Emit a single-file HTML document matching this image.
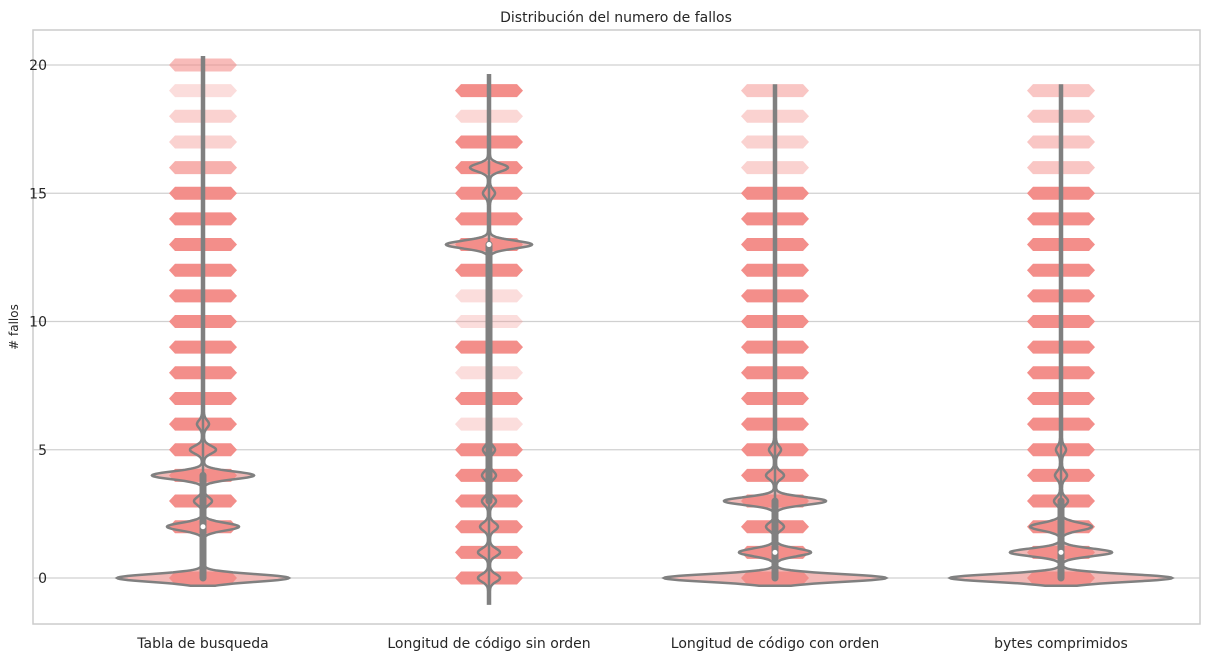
<!DOCTYPE html>
<html><head><meta charset="utf-8"><style>
body{margin:0;background:#fff;font-family:"Liberation Sans","DejaVu Sans",sans-serif}
svg text{font-family:"DejaVu Sans","Liberation Sans",sans-serif;fill:#262626}
</style></head><body>
<svg id="c" width="1213" height="661" xmlns="http://www.w3.org/2000/svg"></svg>
<script>
const categories=["Tabla de busqueda","Longitud de código sin orden","Longitud de código con orden","bytes comprimidos"];
const yTicks=[0,5,10,15,20];
// strip band opacity per value 0..20 (0 = absent)
const band0=[1,0,1,1,1,1,1,1,1,1,1,1,1,1,1,1,.7,.4,.4,.3,.6];
const band1=[1,1,1,1,1,1,.3,1,.3,1,.3,.3,1,1,1,1,1,1,.35,1,0];
const band2=[1,1,1,1,1,1,1,1,1,1,1,1,1,1,1,1,.4,.4,.4,.5,0];
const band3=[1,1,1,1,1,1,1,1,1,1,1,1,1,1,1,1,.5,.5,.5,.5,0];
const bands=[band0,band1,band2,band3];
// violin peak half-widths (px) per value 0..20
const vio0=[85,0,35,8,50,12,5,0,0,0,0,0,0,0,0,0,0,0,0,0,0];
const vio1=[10,10,8,6,6,5,0,0,0,0,0,0,0,42,0,5,18,0,0,0,0];
const vio2=[110,35,8,50,8,5,0,0,0,0,0,0,0,0,0,0,0,0,0,0,0];
const vio3=[110,50,30,6,5,4,0,0,0,0,0,0,0,0,0,0,0,0,0,0,0];
const violins=[vio0,vio1,vio2,vio3];
const q1s=[0,3,0,0], medians=[2,13,1,1], q3s=[4,13,3,3], whiskLo=[0,-0.7,0,0], whiskHi=[20.3,19.6,19.2,19.2];
const NS="http://www.w3.org/2000/svg", svg=document.getElementById('c');
const L=33,R=1200,T=30,B=624;
const y=v=>578-v*25.65;
const x=i=>203+i*286;
function mk(t,a,p){const e=document.createElementNS(NS,t);for(const k in a)e.setAttribute(k,a[k]);(p||svg).appendChild(e);return e;}
const frame=mk('rect',{x:L,y:T,width:R-L,height:B-T,fill:'#fff',stroke:'#cccccc','stroke-width':1.5});


yTicks.forEach(t=>{
 const g=mk('line',{x1:L,x2:R,y1:y(t),y2:y(t),stroke:'#d0d0d0','stroke-width':1.3});
 
 
 const tx=mk('text',{x:47,y:y(t)+5,'text-anchor':'end','font-size':14});tx.textContent=t;
 
 
});
const yt=mk('text',{x:0,y:0,'font-size':12,'text-anchor':'middle',transform:'translate(18,327) rotate(-90)'});yt.textContent='# fallos';


const tt=mk('text',{x:616,y:22,'font-size':14,'text-anchor':'middle'});tt.textContent='Distribución del numero de fallos';


categories.forEach((c,i)=>{
 const cx=x(i);
 const w=violins[i];const pts=[];
 const lo=whiskLo[i]-0.3, hi=whiskHi[i];
 for(let v=lo;v<=hi+1e-6;v+=0.02){
  let s=1;
  for(let k=0;k<w.length;k++){const d=(v-k)/0.15;s+=w[k]*Math.exp(-d*d/2);}
  pts.push([v,s]);
 }
 let d='M'+pts.map(p=>(cx+p[1]).toFixed(1)+','+y(p[0]).toFixed(1)).join('L');
 d+='L'+pts.slice().reverse().map(p=>(cx-p[1]).toFixed(1)+','+y(p[0]).toFixed(1)).join('L')+'Z';
 const vf=mk('path',{d:d,fill:'#f2b8b6',stroke:'none'});
 
 
 bands[i].forEach((o,v)=>{
  if(!o)return;const yy=y(v);
  const p=mk('polygon',{points:`${cx-34},${yy} ${cx-28},${yy-6.5} ${cx+28},${yy-6.5} ${cx+34},${yy} ${cx+28},${yy+6.5} ${cx-28},${yy+6.5}`,fill:'#f38e8a','fill-opacity':o});
  
  
 });
 const vs=mk('path',{d:d,fill:'none',stroke:'#808080','stroke-width':2.5});
 
 
 const wl=mk('line',{x1:cx,x2:cx,y1:y(whiskLo[i]),y2:y(whiskHi[i]),stroke:'#808080','stroke-width':2.5});
 
 
 const bx=mk('line',{x1:cx,x2:cx,y1:y(q1s[i]),y2:y(q3s[i]),stroke:'#808080','stroke-width':7,'stroke-linecap':'round'});
 
 
 const md=mk('circle',{cx:cx,cy:y(medians[i]),r:2.5,fill:'#fff'});
 
 
 const xl=mk('text',{x:cx,y:648,'font-size':14,'text-anchor':'middle'});xl.textContent=c;
 
 
});
</script>
</body></html>
